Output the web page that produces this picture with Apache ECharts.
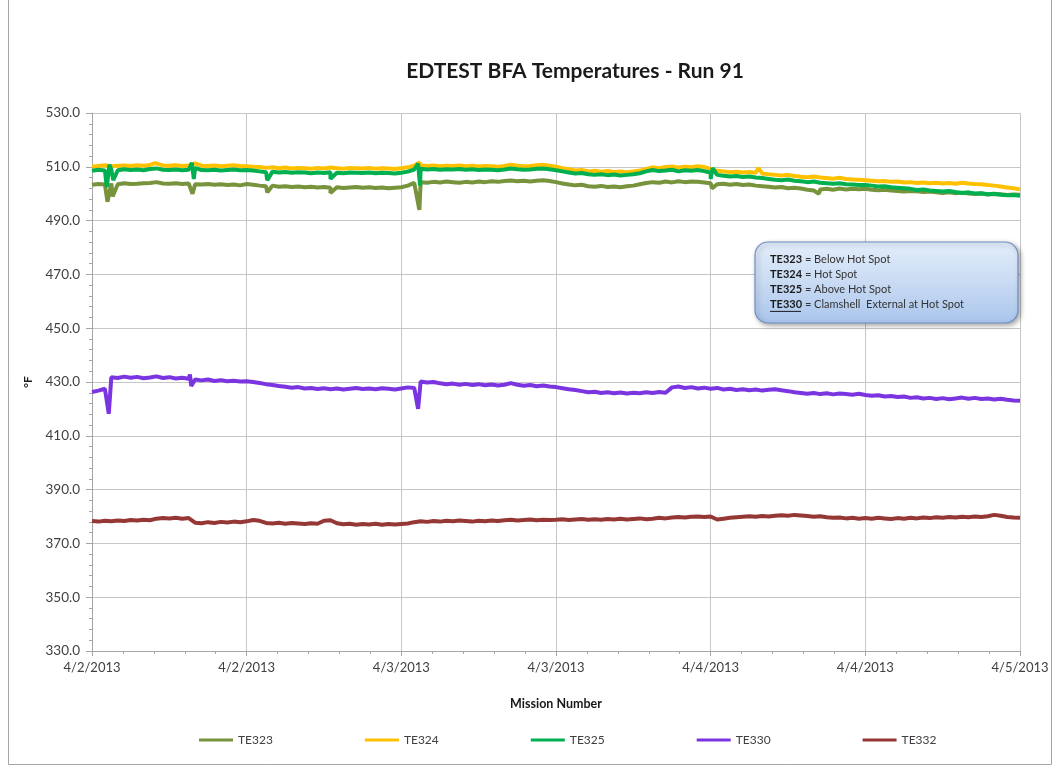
<!DOCTYPE html>
<html>
<head>
<meta charset="utf-8">
<script src="https://cdn.jsdelivr.net/npm/echarts@6/dist/echarts.min.js"></script>
<style>
html,body{margin:0;padding:0;background:#fff;}
#chart{width:1055px;height:767px;}
</style>
</head>
<body>
<div id="chart"></div>
<script>
// ---- DATA ----
const titleText = 'EDTEST BFA Temperatures - Run 91';
const xTickLabels = ['4/2/2013','4/2/2013','4/3/2013','4/3/2013','4/4/2013','4/4/2013','4/5/2013'];
const seriesNames = ['TE323','TE324','TE325','TE330','TE332'];
const noteLines = [
  ['TE323', ' = Below Hot Spot'],
  ['TE324', ' = Hot Spot'],
  ['TE325', ' = Above Hot Spot'],
  ['TE330', ' = Clamshell  External at Hot Spot']
];
// samples every half hour, 0 .. 72 h (4/2/2013 00:00 .. 4/5/2013 00:00)
const sampleStepHours = 0.5;

const te323 = [
 503.3,503.6,503.4,503.8,503.5,503.9,503.6,503.7,503.9,504.0,504.3,503.8,503.7,503.9,503.6,503.8,503.5,503.4,503.6,503.3,503.5,503.2,503.4,503.1,
 503.6,503.3,503.0,502.8,503.0,502.6,502.8,502.5,502.7,502.4,502.6,502.3,502.5,502.2,502.4,502.1,502.3,502.5,502.2,502.4,502.1,502.3,502.0,502.2,
 502.4,503.0,504.0,504.3,504.1,504.4,504.2,504.5,504.3,504.1,504.4,504.2,504.5,504.3,504.6,504.4,504.7,504.9,504.6,504.8,504.5,504.8,505.0,504.7,
 504.3,503.8,503.4,503.1,503.3,502.8,502.6,502.9,502.5,502.7,502.4,502.8,503.0,503.5,504.0,504.3,504.1,504.5,504.2,504.6,504.3,504.5,504.4,504.2,
 503.9,503.5,503.7,503.3,503.6,503.2,503.4,503.0,502.8,502.6,502.3,502.5,502.0,502.2,501.9,501.5,501.2,501.6,501.8,501.5,501.9,501.6,501.8,501.7,
 501.8,501.5,501.3,501.5,501.2,501.0,500.8,501.0,500.9,500.6,500.8,500.5,500.3,500.5,500.2,500.4,500.1,499.9,500.1,499.7,499.9,499.8,499.5,499.7,499.6
];
const te323Spikes = [[1.2,497.0],[1.6,499.0],[7.8,500.0],[13.6,500.5],[18.5,500.3],[25.4,494.0],[48.1,502.0],[56.4,500.0]];

const te324 = [
 510.0,510.3,510.6,510.2,510.4,510.5,510.3,510.6,510.4,510.7,511.2,510.5,510.4,510.6,510.3,510.5,511.3,510.4,510.3,510.5,510.2,510.4,510.6,510.3,
 510.2,510.0,509.9,509.6,509.8,509.5,509.7,509.4,509.6,509.5,509.3,509.6,509.4,509.7,509.5,509.3,509.6,509.5,509.4,509.6,509.3,509.5,509.4,509.2,
 509.5,509.8,510.4,510.6,510.3,510.5,510.2,510.4,510.3,510.5,510.2,510.4,510.1,510.3,510.2,510.0,510.3,510.8,510.4,510.2,510.3,510.6,510.8,510.4,
 510.0,509.5,509.1,508.6,508.8,508.3,508.5,508.2,508.4,508.1,508.3,508.0,508.3,508.6,509.2,509.8,509.5,509.9,510.1,509.7,510.0,509.8,510.2,509.9,
 509.2,508.5,508.3,508.0,508.2,507.9,508.1,507.8,507.5,507.2,507.0,506.8,507.0,506.6,506.3,506.1,506.4,506.0,505.8,505.6,505.9,505.5,505.3,505.2,
 505.0,504.8,504.6,504.7,504.4,504.5,504.2,504.3,504.0,504.2,503.9,504.1,503.8,504.0,503.7,504.1,503.8,503.6,503.5,503.2,503.0,502.7,502.3,502.0,501.6
];
const te324Spikes = [[4.9,511.4],[25.4,511.6],[51.7,509.6]];

const te325 = [
 508.5,508.9,508.6,509.0,508.7,509.1,508.8,509.0,508.7,509.2,509.4,508.9,508.8,509.0,508.7,508.9,509.6,508.8,508.7,508.9,508.6,508.8,509.0,508.7,
 508.8,508.6,508.3,508.0,508.2,507.9,508.1,507.8,508.0,507.9,507.6,507.9,507.7,508.0,507.8,507.6,507.9,507.8,507.7,507.9,507.6,507.8,507.7,507.5,
 507.8,508.2,509.0,509.3,509.0,509.2,508.9,509.1,509.0,509.2,508.9,509.1,508.8,509.0,508.9,508.7,509.0,509.4,509.1,508.9,509.0,509.3,509.4,509.1,
 508.7,508.3,507.9,507.5,507.7,507.2,507.0,507.2,506.9,507.1,506.8,507.0,507.2,507.6,508.3,508.8,508.4,508.6,508.9,508.3,508.7,508.5,508.8,508.4,
 507.8,507.0,506.7,506.4,506.6,506.2,506.4,506.0,505.8,505.5,505.2,505.0,505.3,504.8,504.6,504.3,504.5,504.1,503.9,503.7,503.9,503.5,503.4,503.2,
 503.2,503.0,502.7,502.8,502.4,502.2,502.0,501.8,501.4,501.6,501.2,501.0,500.8,501.0,500.6,500.3,500.5,500.1,500.2,499.8,500.0,499.6,499.4,499.5,499.2
];
const te325Spikes = [[1.15,502.5],[1.35,510.8],[1.65,505.0],[7.75,511.5],[7.9,505.5],[13.6,505.0],[18.5,505.5],[25.3,511.2],[25.45,503.0],[48.0,505.5],[48.15,509.5]];

const te330 = [
 426.3,426.8,427.5,431.8,431.5,432.0,431.6,431.9,431.4,431.7,432.1,431.5,431.8,431.3,431.6,431.2,430.9,430.6,430.9,430.4,430.7,430.3,430.5,430.2,
 430.3,430.0,429.6,429.2,428.9,428.5,428.2,427.9,428.1,427.6,427.8,427.4,427.7,427.3,427.6,427.2,427.5,427.8,427.4,427.6,427.3,427.7,427.5,427.2,
 427.6,428.0,427.8,430.2,429.8,430.0,429.5,429.2,429.4,429.0,429.3,428.9,429.2,428.8,429.1,428.7,429.0,429.6,429.0,428.6,428.9,428.4,428.7,428.3,
 428.1,427.7,427.3,427.0,426.6,426.2,426.4,425.9,426.2,425.8,426.1,425.7,426.0,425.8,426.2,425.9,426.3,426.0,428.0,428.3,427.8,428.1,427.6,427.9,
 427.5,427.8,427.2,427.5,427.0,427.3,426.9,427.2,426.8,427.1,427.3,426.9,426.6,426.2,425.9,425.6,425.9,425.5,425.8,425.4,425.7,425.5,425.3,425.6,
 425.2,424.9,425.1,424.6,424.8,424.4,424.6,424.1,424.3,423.9,424.1,423.7,424.0,423.6,423.9,424.2,423.8,424.1,423.7,423.9,423.5,423.8,423.4,423.1,423.0
];
const te330Spikes = [[1.3,418.2],[7.6,432.8],[7.7,428.5],[25.3,420.0]];

const te332 = [
 378.3,378.1,378.4,378.2,378.5,378.3,378.7,378.5,378.8,378.6,379.2,379.4,379.3,379.5,379.2,379.4,377.7,377.5,377.9,377.6,378.0,377.8,378.1,377.9,
 378.2,378.7,378.4,377.6,377.4,377.7,377.3,377.6,377.4,377.2,377.5,377.3,378.4,378.6,377.5,377.1,377.3,376.9,377.2,377.0,377.3,376.9,377.2,377.0,
 377.2,377.4,377.9,378.2,378.0,378.3,378.1,378.4,378.2,378.5,378.3,378.1,378.4,378.2,378.5,378.3,378.6,378.8,378.5,378.7,378.9,378.6,378.8,378.7,
 378.8,379.0,378.7,378.9,379.1,378.8,379.0,378.8,379.1,378.9,379.2,378.9,379.1,379.3,379.0,379.2,379.5,379.3,379.6,379.8,379.6,379.9,380.0,379.8,
 380.0,378.9,379.2,379.5,379.7,379.9,380.1,379.9,380.2,380.0,380.3,380.5,380.3,380.6,380.4,380.2,379.9,380.1,379.7,379.5,379.6,379.3,379.5,379.2,
 379.4,379.2,379.5,379.3,379.1,379.4,379.2,379.5,379.3,379.6,379.4,379.7,379.5,379.8,379.6,379.9,379.7,380.0,379.8,380.1,380.6,380.3,379.8,379.6,379.5
];
const te332Spikes = [];

const colors = ['#77933C','#FFC000','#00B050','#7A35E0','#953735'];

// ---- BUILD ----
function build(vals, spikes){
  const pts = vals.map((v,i)=>[i*sampleStepHours, v]);
  return pts.concat(spikes).sort((a,b)=>a[0]-b[0]);
}
const allVals = [te323,te324,te325,te330,te332];
const allSpikes = [te323Spikes,te324Spikes,te325Spikes,te330Spikes,te332Spikes];

const FONT = 'Lato';
const chart = echarts.init(document.getElementById('chart'), null, {renderer:'canvas'});

const noteX = 770, noteY0 = 259, noteDy = 15.3;
const graphics = [
  {type:'rect', left:6, top:-5, shape:{width:1043,height:767}, style:{fill:'none',stroke:'#a6a6a6',lineWidth:1}, silent:true, z:-1},
  {type:'rect', x:755, y:242, shape:{x:0,y:0,width:263,height:81,r:13},
   style:{fill:new echarts.graphic.LinearGradient(0,0,0,1,[{offset:0,color:'#e3edfa'},{offset:0.5,color:'#c9dbf3'},{offset:1,color:'#a9c5ec'}]),
          stroke:'#6f8fc6',lineWidth:1.2,shadowBlur:5,shadowColor:'rgba(0,0,0,0.35)',shadowOffsetX:2,shadowOffsetY:2}, z:100}
];
noteLines.forEach((ln,i)=>{
  graphics.push({type:'text', x:noteX, y:noteY0+i*noteDy, z:101,
    style:{text:'{b|'+ln[0]+'}{n|'+ln[1]+'}', verticalAlign:'middle',
      rich:{b:{fontFamily:FONT,fontSize:11,fontWeight:'bold',fill:'#1a1a1a'},n:{fontFamily:FONT,fontSize:11,fill:'#333'}}}});
});
graphics.push({type:'line', z:101, shape:{x1:noteX, y1:noteY0+3*noteDy+6.5, x2:noteX+31, y2:noteY0+3*noteDy+6.5}, style:{stroke:'#1a1a1a',lineWidth:1}});

const option = {
  animation:false,
  backgroundColor:'#ffffff',
  title:{text:titleText, left:570, top:56, textAlign:'center',
    textStyle:{fontFamily:FONT,fontSize:21,fontWeight:'bold',color:'#1a1a1a'}},
  grid:{left:92, right:35, top:113, bottom:116, containLabel:false},
  legend:{bottom:16, left:194, itemGap:92, itemWidth:34, itemHeight:3, icon:'rect',
    data:seriesNames, textStyle:{fontFamily:FONT,fontSize:12,color:'#404040'}},
  xAxis:{type:'value', min:0, max:72, interval:12,
    name:'Mission Number', nameLocation:'middle', nameGap:46,
    nameTextStyle:{fontFamily:FONT,fontSize:12.5,fontWeight:'bold',color:'#1a1a1a'},
    axisLine:{show:true,lineStyle:{color:'#a6a6a6'}},
    axisTick:{show:true,length:5,lineStyle:{color:'#a6a6a6'}},
    minorTick:{show:true,splitNumber:5,length:3,lineStyle:{color:'#a6a6a6'}},
    splitLine:{show:true,lineStyle:{color:'#c6c6c6',width:1}},
    axisLabel:{fontFamily:FONT,fontSize:13,color:'#404040',margin:10,
      formatter:(v)=>xTickLabels[Math.round(v/12)]}},
  yAxis:{type:'value', min:330, max:530, interval:20,
    name:'°F', nameLocation:'middle', nameGap:55, nameRotate:90,
    nameTextStyle:{fontFamily:FONT,fontSize:12,fontWeight:'bold',color:'#1a1a1a'},
    axisLine:{show:true,lineStyle:{color:'#a6a6a6'}},
    axisTick:{show:true,length:6,lineStyle:{color:'#a6a6a6'}},
    minorTick:{show:true,splitNumber:5,length:3,lineStyle:{color:'#a6a6a6'}},
    splitLine:{show:true,lineStyle:{color:'#c6c6c6',width:1}},
    axisLabel:{fontFamily:FONT,fontSize:13.5,color:'#404040',margin:12,
      formatter:(v)=>v.toFixed(1)}},
  series: seriesNames.map((n,i)=>({
    name:n, type:'line', data:build(allVals[i],allSpikes[i]),
    showSymbol:false, symbol:'none', color:colors[i],
    lineStyle:{width:4,color:colors[i]}, z:2+i, silent:true
  })),
  graphic:graphics
};
chart.setOption(option);
</script>
</body>
</html>
